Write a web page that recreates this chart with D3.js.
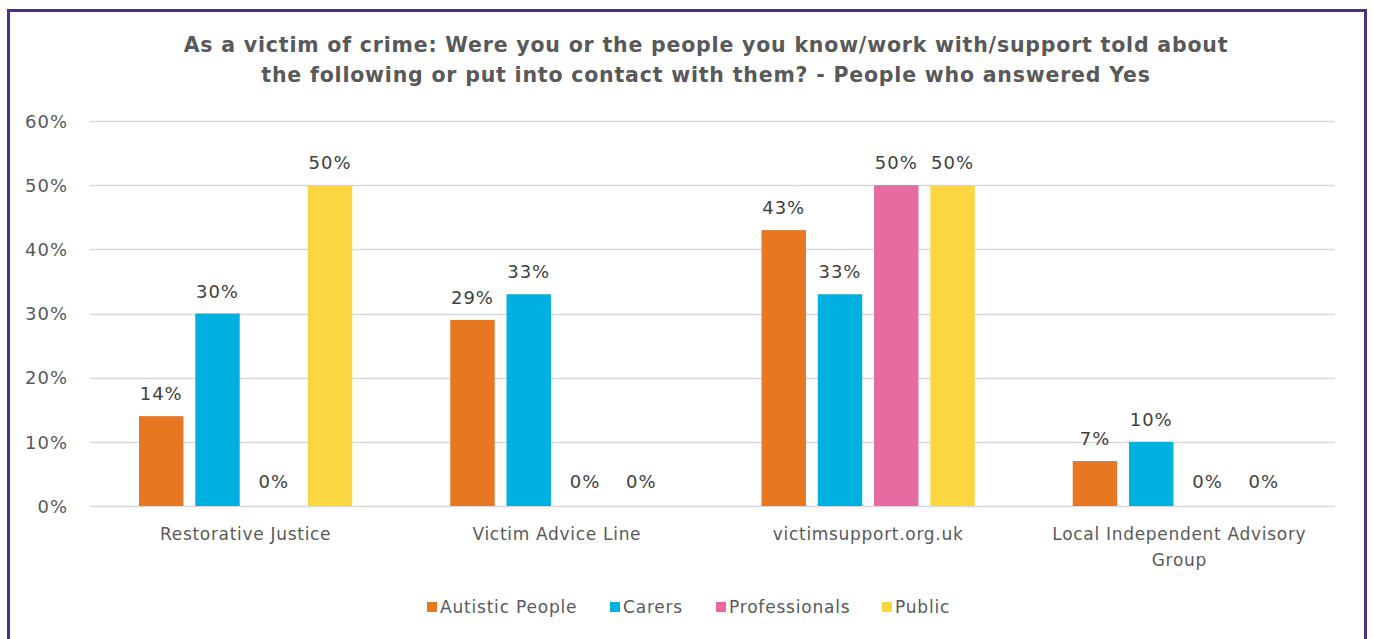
<!DOCTYPE html>
<html><head><meta charset="utf-8">
<script src="https://cdn.jsdelivr.net/npm/d3@7"></script>
<style>body{margin:0;background:#fff;}svg{display:block;}</style>
</head><body>
<script>
const categories = ["Restorative Justice", "Victim Advice Line", "victimsupport.org.uk", "Local Independent Advisory Group"];
const seriesNames = ["Autistic People", "Carers", "Professionals", "Public"];
const autistic = [14, 29, 43, 7];
const carers = [30, 33, 33, 10];
const professionals = [0, 0, 50, 0];
const publicVals = [50, 0, 50, 0];
const yTicks = [0, 10, 20, 30, 40, 50, 60];
const colors = ["#E87722", "#00B0E0", "#E56BA1", "#FBD641"];
const titleLines = ["As a victim of crime: Were you or the people you know/work with/support told about",
  "the following or put into contact with them? - People who answered Yes"];

const series = [autistic, carers, professionals, publicVals];
const W = 1373, H = 639;
const font = "DejaVu Sans";
const textColor = "#595959";

const svg = d3.select("body").append("svg").attr("width", W).attr("height", H);
svg.append("rect").attr("width", W).attr("height", H).attr("fill", "#fff");
// border
svg.append("path").attr("d", `M8.5,${H+5} V10.5 H1365.5 V${H+5}`).attr("fill", "none")
  .attr("stroke", "#4B2F8F").attr("stroke-width", 3);

const x0 = d3.scaleBand().domain(categories).range([90, 1335]).paddingInner(0).paddingOuter(0);
const x1 = d3.scaleBand().domain(seriesNames).range([49, x0.bandwidth() - 49]).paddingInner(0.21).paddingOuter(0);
const y = d3.scaleLinear().domain([0, 60]).range([506, 121]);

// grid
svg.append("g").selectAll("line").data(yTicks).join("line")
  .attr("x1", 90).attr("x2", 1335).attr("y1", d => Math.round(y(d)) + 0.5).attr("y2", d => Math.round(y(d)) + 0.5)
  .attr("stroke", "#D9D9D9").attr("stroke-width", 1.3);

// y axis labels
const yAxis = d3.axisLeft(y).tickValues(yTicks).tickFormat(d => d + "%").tickSize(0).tickPadding(0);
const ya = svg.append("g").attr("transform", "translate(68,0)").call(yAxis);
ya.select(".domain").remove();
ya.selectAll("text").attr("font-family", font).attr("font-size", 18).attr("letter-spacing", 1)
  .attr("fill", textColor).attr("dy", "0.35em");

// title
svg.append("text").attr("x", 706).attr("y", 52).attr("text-anchor", "middle")
  .attr("font-family", font).attr("font-weight", "bold").attr("font-size", 20.5).attr("letter-spacing", 0.8)
  .attr("fill", textColor)
  .selectAll("tspan").data(titleLines).join("tspan").attr("x", 706).attr("dy", (d, i) => i ? 30 : 0).text(d => d);

// bars
const groups = svg.append("g").selectAll("g").data(categories).join("g")
  .attr("transform", d => `translate(${x0(d)},0)`);
groups.each(function(cat, ci) {
  const g = d3.select(this);
  const data = seriesNames.map((s, si) => ({s, si, v: series[si][ci]}));
  g.selectAll("rect").data(data).join("rect")
    .attr("x", d => x1(d.s)).attr("width", x1.bandwidth())
    .attr("y", d => y(d.v)).attr("height", d => y(0) - y(d.v))
    .attr("fill", d => colors[d.si]);
  g.selectAll("text").data(data).join("text")
    .attr("x", d => x1(d.s) + x1.bandwidth() / 2).attr("y", d => y(d.v) - (d.v === 0 ? 18 : 16))
    .attr("text-anchor", "middle").attr("font-family", font).attr("font-size", 18).attr("letter-spacing", 1)
    .attr("fill", "#404040")
    .text(d => d.v + "%");
});

// category labels
const catLines = [["Restorative Justice"], ["Victim Advice Line"], ["victimsupport.org.uk"], ["Local Independent Advisory", "Group"]];
categories.forEach((c, i) => {
  svg.append("text").attr("x", x0(c) + x0.bandwidth() / 2).attr("y", 540).attr("text-anchor", "middle")
    .attr("font-family", font).attr("font-size", 17).attr("letter-spacing", 0.7).attr("fill", textColor)
    .selectAll("tspan").data(catLines[i]).join("tspan")
    .attr("x", x0(c) + x0.bandwidth() / 2).attr("dy", (d, j) => j ? 26 : 0).text(d => d);
});

// legend
const legX = [427, 610, 716, 882];
const leg = svg.append("g").selectAll("g").data(seriesNames).join("g")
  .attr("transform", (d, i) => `translate(${legX[i]},607)`);
leg.append("rect").attr("x", 0).attr("y", -5).attr("width", 10).attr("height", 10).attr("fill", (d, i) => colors[i]);
leg.append("text").attr("x", 13).attr("y", 0).attr("dy", "0.35em").attr("font-family", font)
  .attr("font-size", 17).attr("letter-spacing", 0.8).attr("fill", textColor).text(d => d);
</script>
</body></html>
